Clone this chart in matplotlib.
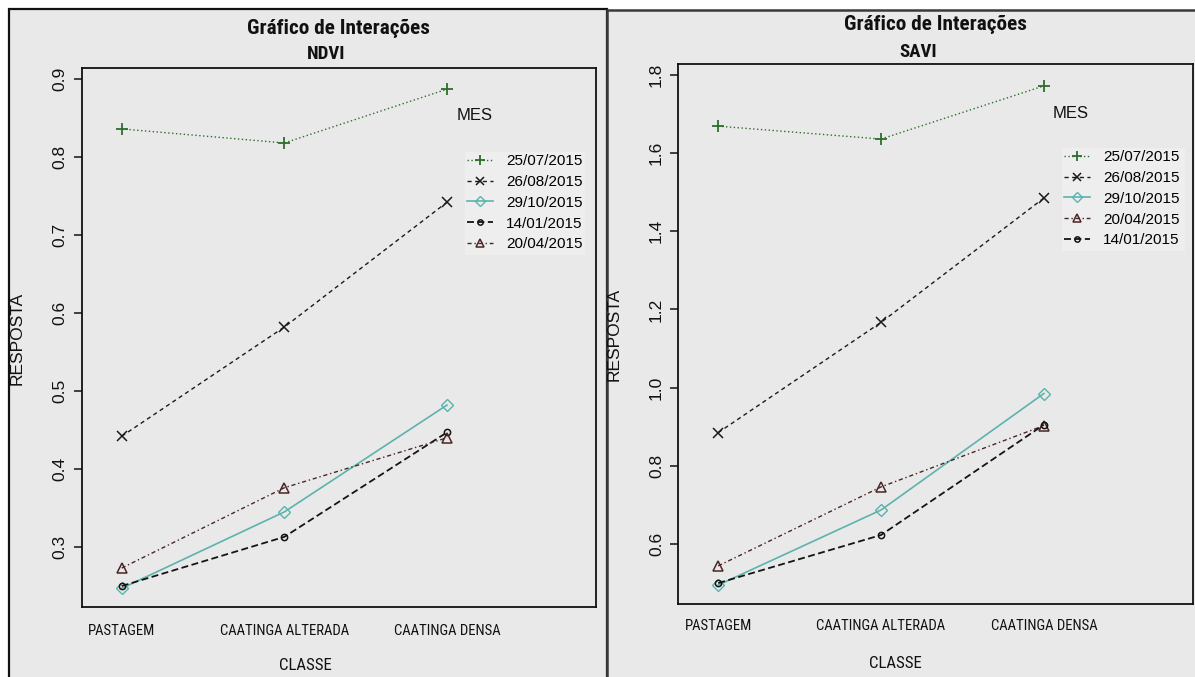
import matplotlib
matplotlib.use("Agg")
import matplotlib.pyplot as plt
from matplotlib import font_manager
from matplotlib.font_manager import FontProperties
from matplotlib.patches import Rectangle

W, H = 1195, 677

classes = ['PASTAGEM', 'CAATINGA ALTERADA', 'CAATINGA DENSA']

ndvi_dates = ['25/07/2015', '26/08/2015', '29/10/2015', '14/01/2015', '20/04/2015']
ndvi_2507 = [0.836, 0.818, 0.887]
ndvi_2608 = [0.442, 0.582, 0.742]
ndvi_2910 = [0.247, 0.345, 0.482]
ndvi_1401 = [0.250, 0.313, 0.447]
ndvi_2004 = [0.273, 0.376, 0.440]
ndvi_ticks = [0.3, 0.4, 0.5, 0.6, 0.7, 0.8, 0.9]

savi_dates = ['25/07/2015', '26/08/2015', '29/10/2015', '20/04/2015', '14/01/2015']
savi_2507 = [1.669, 1.636, 1.772]
savi_2608 = [0.885, 1.167, 1.485]
savi_2910 = [0.495, 0.687, 0.985]
savi_2004 = [0.544, 0.746, 0.903]
savi_1401 = [0.500, 0.623, 0.905]
savi_ticks = [0.6, 0.8, 1.0, 1.2, 1.4, 1.6, 1.8]

ndvi_series = {'25/07/2015': ndvi_2507, '26/08/2015': ndvi_2608, '29/10/2015': ndvi_2910,
               '14/01/2015': ndvi_1401, '20/04/2015': ndvi_2004}
savi_series = {'25/07/2015': savi_2507, '26/08/2015': savi_2608, '29/10/2015': savi_2910,
               '20/04/2015': savi_2004, '14/01/2015': savi_1401}

styles = {
    '25/07/2015': dict(color='#2d6e2d', ls=(0, (1, 1.8)), marker='+', ms=9, mew=1.3, lw=1.0),
    '26/08/2015': dict(color='#1a1a1a', ls=(0, (3, 2.5)), marker='x', ms=6.5, mew=1.1, lw=1.0),
    '29/10/2015': dict(color='#5cb3ad', ls='-', marker='D', ms=6.5, mew=1.0, lw=1.2, mfc='none'),
    '14/01/2015': dict(color='#141414', ls=(0, (5, 2.5)), marker='o', ms=4.5, mew=1.1, lw=1.3, mfc='none'),
    '20/04/2015': dict(color='#4a2626', ls=(0, (3, 2, 1, 2)), marker='^', ms=7, mew=1.1, lw=1.0, mfc='none'),
}

plt.rcParams['lines.scale_dashes'] = False

# pick a narrow/condensed sans font if one is installed
REG = 'Liberation Sans'
narrow_family = None
narrow_stretch = 'normal'
ttf = font_manager.fontManager.ttflist
for want in ['Liberation Sans Narrow', 'Arial Narrow', 'Roboto Condensed', 'Open Sans Condensed',
             'DejaVu Sans Condensed', 'Noto Sans Condensed']:
    if any(f.name == want for f in ttf):
        narrow_family = want
        break
if narrow_family is None:
    for f in ttf:
        st = str(f.stretch)
        if st in ('condensed', 'semi-condensed', 'extra-condensed', 'ultra-condensed') or \
                (st.isdigit() and int(st) < 500):
            if 'Sans' in f.name or 'Roboto' in f.name:
                narrow_family = f.name
                narrow_stretch = 'condensed'
                break
HAVE_NARROW = narrow_family is not None
if not HAVE_NARROW:
    narrow_family = REG


def nfont(size, weight='normal'):
    return FontProperties(family=[narrow_family, 'DejaVu Sans'], stretch=narrow_stretch,
                          size=size, weight=weight)


k = 1.0 if not HAVE_NARROW else 1.18  # condensed fonts can be set larger

fig = plt.figure(figsize=(W / 100, H / 100), dpi=100)
fig.patch.set_facecolor('white')


def fx(px):
    return px / W


def fy(py):
    return 1 - py / H


BG = '#e9e9e9'
# panel frames
fig.patches.append(Rectangle((fx(9), fy(H + 5)), fx(598), fy(9) - fy(H + 5), transform=fig.transFigure,
                             facecolor=BG, edgecolor='#111111', lw=1.6, zorder=0))
fig.patches.append(Rectangle((fx(607), fy(H + 5)), fx(600), fy(10) - fy(H + 5), transform=fig.transFigure,
                             facecolor=BG, edgecolor='#3a3a3a', lw=1.8, zorder=1))

panels = [
    dict(box=(81.5, 68, 596, 607), ylim=(0.2231, 0.9141), ticks=ndvi_ticks,
         series=ndvi_series, order=ndvi_dates, title='Gráfico de Interações', sub='NDVI',
         title_xy=(338, 28), sub_xy=(326, 54), resp_xy=(17, 338), classe_xy=(305, 665),
         mes_xy=(475, 116), leg_xy=(467, 154), leg_bg=(465, 152, 585, 255), xpad=12.5),
    dict(box=(678, 64, 1193, 604), ylim=(0.4465, 1.828), ticks=savi_ticks,
         series=savi_series, order=savi_dates, title='Gráfico de Interações', sub='SAVI',
         title_xy=(935, 25), sub_xy=(918, 52), resp_xy=(614, 334), classe_xy=(895, 663),
         mes_xy=(1071, 113), leg_xy=(1064, 150), leg_bg=(1062, 148, 1185, 251), xpad=11),
]

xpos = [1, 2, 3]
for p in panels:
    l, t, r, b = p['box']
    ax = fig.add_axes([fx(l), fy(b), fx(r) - fx(l), fy(t) - fy(b)])
    ax.set_facecolor('none')
    ax.set_zorder(5)
    for s in ax.spines.values():
        s.set_linewidth(1.3)
        s.set_color('#111111')
    for name in p['order']:
        st = dict(styles[name])
        mfc = st.pop('mfc', None)
        ax.plot(xpos, p['series'][name], linestyle=st['ls'], color=st['color'], lw=st['lw'],
                marker=st['marker'], ms=st['ms'], mew=st['mew'],
                mfc=mfc if mfc else st['color'], mec=st['color'], label=name)
    ax.set_xlim(0.753, 3.916)
    ax.set_ylim(*p['ylim'])
    ax.set_yticks(p['ticks'])
    ax.set_yticklabels(['{:.1f}'.format(v) for v in p['ticks']], rotation=90,
                       va='center', family=REG, fontsize=12.5)
    ax.tick_params(axis='y', length=6, width=1.1, pad=4, colors='#111111')
    ax.set_xticks(xpos)
    ax.set_xticklabels(classes, fontproperties=nfont(9.0 * k))
    ax.tick_params(axis='x', length=0, pad=p['xpad'], colors='#111111')

    lb = p['leg_bg']
    fig.patches.append(Rectangle((fx(lb[0]), fy(lb[3])), fx(lb[2]) - fx(lb[0]), fy(lb[1]) - fy(lb[3]),
                                 transform=fig.transFigure, facecolor='#eeeeee', edgecolor='none', zorder=2))
    handles, labels = ax.get_legend_handles_labels()
    ax.legend(handles, labels, loc='upper left',
              bbox_to_anchor=(fx(p['leg_xy'][0]), fy(p['leg_xy'][1])),
              bbox_transform=fig.transFigure, frameon=False,
              prop=dict(family=REG, size=11), handlelength=1.7, handletextpad=0.85,
              labelspacing=0.45, borderpad=0, borderaxespad=0, markerscale=0.85)

    fig.text(fx(p['title_xy'][0]), fy(p['title_xy'][1]), p['title'],
             fontproperties=nfont(13 * k, 'bold'), ha='center', va='center', color='#111111')
    fig.text(fx(p['sub_xy'][0]), fy(p['sub_xy'][1]), p['sub'],
             fontproperties=nfont(11.5 * k, 'bold'), ha='center', va='center', color='#111111')
    fig.text(fx(p['resp_xy'][0]), fy(p['resp_xy'][1]), 'RESPOSTA', family=REG, rotation=90,
             fontsize=12.5, ha='center', va='center', color='#111111')
    fig.text(fx(p['classe_xy'][0]), fy(p['classe_xy'][1]), 'CLASSE',
             fontproperties=nfont(10.3 * k), ha='center', va='center', color='#111111')
    fig.text(fx(p['mes_xy'][0]), fy(p['mes_xy'][1]), 'MES', family=REG,
             fontsize=12, ha='center', va='center', color='#111111')

fig.savefig('out.png', dpi=100, facecolor='white')
